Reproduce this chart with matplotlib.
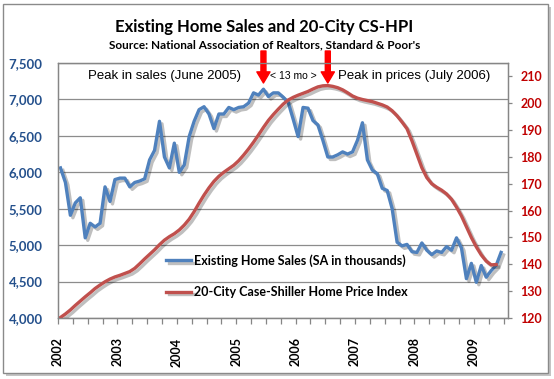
import matplotlib
matplotlib.use('Agg')
import matplotlib.pyplot as plt
import matplotlib.patheffects as pe
from matplotlib.patches import Rectangle
import numpy as np

# ---------------- data ----------------
years = ['2002', '2003', '2004', '2005', '2006', '2007', '2008', '2009']

# Existing home sales, SA, thousands (monthly, Jan 2002 - Jun 2009)
sales = [6060, 5860, 5410, 5580, 5650, 5100, 5300, 5250, 5300, 5800, 5600, 5900,
         5920, 5920, 5800, 5860, 5880, 5910, 6170, 6300, 6700, 6210, 6060, 6400,
         6000, 6100, 6490, 6700, 6860, 6900, 6800, 6600, 6800, 6800, 6890, 6860,
         6890, 6900, 6950, 7090, 7060, 7140, 7040, 7090, 7090, 7030, 6960, 6730,
         6490, 6890, 6880, 6710, 6650, 6440, 6210, 6210, 6240, 6280, 6250, 6280,
         6440, 6680, 6170, 6030, 5980, 5780, 5750, 5500, 5040, 4990, 5010, 4910,
         4900, 5030, 4930, 4870, 4920, 4900, 4980, 4930, 5100, 4960, 4540, 4750,
         4490, 4720, 4560, 4650, 4720, 4900]

# 20-City Case-Shiller Home Price Index (monthly, Jan 2002 - May 2009)
cshpi = [120.2, 121.5, 123.0, 124.7, 126.3, 127.9, 129.4, 131.0, 132.3, 133.5, 134.5, 135.3,
         135.9, 136.6, 137.3, 138.5, 140.2, 142.0, 143.7, 145.4, 147.3, 149.0, 150.3, 151.4,
         152.8, 154.6, 156.8, 159.6, 162.8, 165.8, 168.5, 170.9, 172.8, 174.3, 175.6, 176.9,
         178.6, 180.7, 183.0, 185.5, 188.2, 191.0, 193.6, 195.8, 197.8, 199.7, 201.2, 202.2,
         203.0, 203.7, 204.4, 205.3, 206.1, 206.5, 206.6, 206.3, 205.8, 205.0, 203.9, 202.7,
         201.9, 201.4, 201.0, 200.6, 200.0, 199.4, 198.6, 197.2, 195.3, 193.0, 190.5, 186.0,
         181.0, 176.0, 172.3, 170.0, 168.7, 167.6, 166.2, 164.2, 161.3, 158.0, 154.0, 150.0,
         146.5, 143.5, 141.2, 139.8, 139.9]

sales_label = 'Existing Home Sales (SA in thousands)'
hpi_label = '20-City Case-Shiller Home Price Index'
title = 'Existing Home Sales and 20-City CS-HPI'
subtitle = "Source: National Association of Realtors, Standard & Poor's"

# ---------------- figure ----------------
W, H = 554, 379
fig = plt.figure(figsize=(W / 100, H / 100), dpi=100)
fig.patch.set_facecolor('white')

# outer chart frame with shadow
fig.patches.append(Rectangle((6 / W, 1 - 376 / H), 545 / W, 369 / H, transform=fig.transFigure,
                             facecolor='#c4c4c4', edgecolor='none', zorder=-3))
fig.patches.append(Rectangle((3 / W, 1 - 373 / H), 545 / W, 369 / H, transform=fig.transFigure,
                             facecolor='white', edgecolor='#8a8a8a', lw=1.0, zorder=-2))

ax = fig.add_axes([58 / W, 1 - 318 / H, 450 / W, 255 / H])
ax2 = ax.twinx()
ax.set_facecolor('none')
ax2.set_facecolor('none')

shadow = [pe.SimpleLineShadow(offset=(1.8, -1.8), shadow_color='black', alpha=0.25), pe.Normal()]

xs = np.arange(len(sales))
xh = np.arange(len(cshpi))
l1, = ax.plot(xs, sales, color='#4F81BD', lw=2.4, solid_joinstyle='round',
              path_effects=shadow, label=sales_label)
l2, = ax2.plot(xh, cshpi, color='#C0504D', lw=2.4, solid_joinstyle='round',
               path_effects=shadow, label=hpi_label)

# axes limits / ticks
ax.set_xlim(-0.5, 90.4)
ax.set_ylim(4000, 7500)
ax2.set_ylim(120, 215)

yt = list(range(4000, 7501, 500))
ax.set_yticks(yt)
ax.set_yticklabels([f'{v:,}' for v in yt], fontfamily='Lato', fontweight='bold',
                   fontsize=9.5, color='#24508C')
rt = list(range(120, 211, 10))
ax2.set_yticks(rt)
ax2.set_yticklabels([str(v) for v in rt], fontfamily='Lato', fontweight='bold',
                    fontsize=9, color='#C00000')

xt = np.arange(-0.5, 90.4, 3)
ax.set_xticks(xt)
xl = []
for k in range(len(xt)):
    xl.append(years[k // 4] if k % 4 == 0 and k // 4 < len(years) else '')
ax.set_xticklabels(xl, rotation=90, fontfamily='Lato', fontweight='bold', fontsize=9)

ax.tick_params(axis='x', direction='out', length=4, color='#868686', width=0.9, pad=10)
ax.tick_params(axis='y', length=0, pad=11)
ax2.tick_params(axis='y', direction='out', length=3, color='#868686', width=0.9, pad=6)

ax.grid(axis='y', color='#8c8c8c', lw=0.9)
ax.set_axisbelow(True)
for a in (ax, ax2):
    for s in a.spines.values():
        s.set_color('#868686')
        s.set_linewidth(0.9)

# titles
fig.text(264 / W, 1 - 27 / H, title, ha='center', va='center', fontfamily='Lato',
         fontweight='bold', fontsize=12)
fig.text(265 / W, 1 - 45 / H, subtitle, ha='center', va='center', fontfamily='Lato',
         fontweight='bold', fontsize=8.5)

# annotations
ann_y = (318 - 76) / 255
ax.text((88 - 58) / 450, ann_y, 'Peak in sales (June 2005)', transform=ax.transAxes,
        ha='left', va='center', fontfamily='Liberation Sans', fontsize=9.5)
ax.text((270 - 58) / 450, ann_y, '< 13 mo >', transform=ax.transAxes,
        ha='left', va='center', fontfamily='Liberation Sans', fontsize=7.5)
ax.text((338 - 58) / 450, ann_y, 'Peak in prices (July 2006)', transform=ax.transAxes,
        ha='left', va='center', fontfamily='Liberation Sans', fontsize=9.5)

peak_s = int(np.argmax(sales))
peak_p = int(np.argmax(cshpi))
for px in (peak_s, peak_p):
    ax.annotate('', xy=(px, (318 - 83) / 255), xycoords=('data', 'axes fraction'),
                xytext=(px, (318 - 51) / 255), textcoords=('data', 'axes fraction'),
                arrowprops=dict(facecolor='#FF0000', edgecolor='#FF0000', width=3.6,
                                headwidth=9.5, headlength=8, shrink=0),
                annotation_clip=False)

leg = ax2.legend([l1, l2], [sales_label, hpi_label], loc='upper left',
                 bbox_to_anchor=((166 - 58) / 450, (318 - 254) / 255),
                 frameon=False, borderpad=0, borderaxespad=0, handlelength=2.0,
                 handletextpad=0.25, labelspacing=1.55,
                 prop={'family': 'Lato', 'weight': 'bold', 'size': 9})

fig.savefig('out.png', dpi=100)
